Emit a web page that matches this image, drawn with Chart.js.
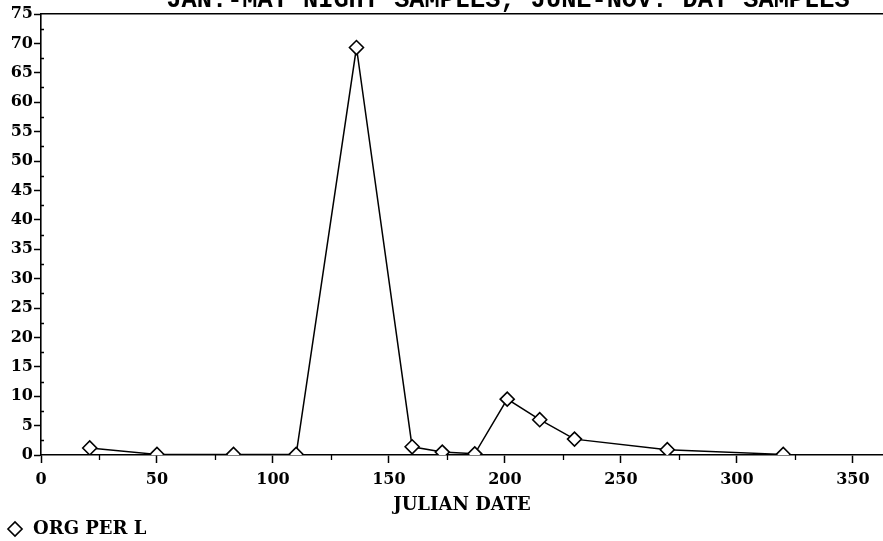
<!DOCTYPE html>
<html>
<head>
<meta charset="utf-8">
<script src="https://cdn.jsdelivr.net/npm/chart.js@4/dist/chart.umd.min.js"></script>
<style>
  html, body { margin: 0; padding: 0; background: #fff; }
  #wrap { width: 883px; height: 541px; position: relative; overflow: hidden; }
</style>
</head>
<body>
<div id="wrap"><canvas id="chart" width="883" height="541"></canvas></div>
<script>
// Sampling dates (Julian day) and organism density (organisms per litre)
const headline = 'JAN.-MAY NIGHT SAMPLES, JUNE-NOV. DAY SAMPLES';
const seriesLabel = 'ORG PER L';
const xAxisLabel = 'JULIAN DATE';
const julianDays = [21, 50, 83, 110, 136, 160, 173, 187, 201, 215, 230, 270, 320];
const orgPerL    = [1.2, 0.1, 0.1, 0.1, 69.3, 1.4, 0.5, 0.2, 9.5, 6.0, 2.7, 0.9, 0.1];

// Axis tick values
const xTicks = [0, 50, 100, 150, 200, 250, 300, 350];
const xMinorTicks = [25, 75, 125, 175, 225, 275, 325];
const yTicks = [0, 5, 10, 15, 20, 25, 30, 35, 40, 45, 50, 55, 60, 65, 70, 75];
const yMinorTicks = [2.5, 7.5, 12.5, 17.5, 22.5, 27.5, 32.5, 37.5, 42.5, 47.5, 52.5, 57.5, 62.5, 67.5, 72.5];

const serif = '"DejaVu Serif", "Liberation Serif", serif';
const ink = '#000';

// Heading text, clipped by the top edge of the canvas
const headlinePlugin = {
  id: 'headline',
  afterDraw(chart) {
    const ctx = chart.ctx;
    ctx.save();
    ctx.fillStyle = ink;
    ctx.font = 'bold 25.3px "Liberation Mono", monospace';
    ctx.textAlign = 'center';
    ctx.textBaseline = 'alphabetic';
    ctx.fillText(headline, 508, 7);
    ctx.restore();
  }
};

// Short unlabelled ticks between the labelled ones
const minorTickPlugin = {
  id: 'minorTicks',
  afterDraw(chart) {
    const { ctx, scales: { x, y } } = chart;
    ctx.save();
    ctx.strokeStyle = ink;
    ctx.lineWidth = 1.3;
    ctx.beginPath();
    xMinorTicks.forEach(v => {
      const px = Math.round(x.getPixelForValue(v)) + 0.5;
      ctx.moveTo(px, y.bottom);
      ctx.lineTo(px, y.bottom + 5);
    });
    yMinorTicks.forEach(v => {
      const py = Math.round(y.getPixelForValue(v)) + 0.5;
      ctx.moveTo(x.left, py);
      ctx.lineTo(x.left + 3, py);
    });
    ctx.stroke();
    ctx.restore();
  }
};

new Chart(document.getElementById('chart'), {
  type: 'line',
  data: {
    datasets: [{
      label: seriesLabel,
      data: julianDays.map((d, i) => ({ x: d, y: orgPerL[i] })),
      borderColor: ink,
      borderWidth: 1.5,
      tension: 0,
      fill: false,
      pointStyle: 'rectRot',
      pointRadius: 7,
      pointBorderWidth: 1.6,
      pointBorderColor: ink,
      pointBackgroundColor: '#fff'
    }]
  },
  options: {
    responsive: false,
    animation: false,
    layout: { autoPadding: false, padding: { top: 14, right: 0, left: 0, bottom: 0 } },
    scales: {
      x: {
        type: 'linear',
        position: 'bottom',
        min: 0,
        max: 363,
        afterBuildTicks: s => { s.ticks = xTicks.map(v => ({ value: v })); },
        afterFit: s => { s.height = 59; s.paddingLeft = 0; s.paddingRight = 0; },
        grid: { display: true, drawOnChartArea: false, drawTicks: true, tickLength: 8, tickColor: ink, tickWidth: 1.5 },
        border: { display: true, color: ink, width: 1.6 },
        ticks: { color: ink, font: { family: serif, size: 16, weight: 'bold' }, padding: 7, maxRotation: 0, autoSkip: false },
        title: { display: true, text: xAxisLabel, color: ink, font: { family: serif, size: 18, weight: 'bold' }, padding: { top: 0, bottom: -2 } }
      },
      xTop: {
        type: 'linear',
        axis: 'x',
        position: 'top',
        min: 0,
        max: 363,
        afterFit: s => { s.height = 0; s.paddingLeft = 0; s.paddingRight = 0; },
        ticks: { display: false },
        grid: { display: false },
        border: { display: true, color: ink, width: 1.6 }
      },
      y: {
        min: 0,
        max: 75,
        afterBuildTicks: s => { s.ticks = yTicks.map(v => ({ value: v })); },
        afterFit: s => { s.width = 41; },
        grid: { display: true, drawOnChartArea: false, drawTicks: true, tickLength: 7, tickColor: ink, tickWidth: 1.5 },
        border: { display: true, color: ink, width: 1.6 },
        ticks: { color: ink, font: { family: serif, size: 16, weight: 'bold' }, padding: 1 }
      }
    },
    plugins: {
      title: { display: false },
      tooltip: { enabled: false },
      legend: {
        position: 'bottom',
        align: 'start',
        maxHeight: 27,
        labels: {
          usePointStyle: true,
          boxWidth: 18,
          boxHeight: 10,
          padding: 6,
          color: ink,
          font: { family: serif, size: 18, weight: 'bold' }
        }
      }
    }
  },
  plugins: [headlinePlugin, minorTickPlugin]
});
</script>
</body>
</html>
